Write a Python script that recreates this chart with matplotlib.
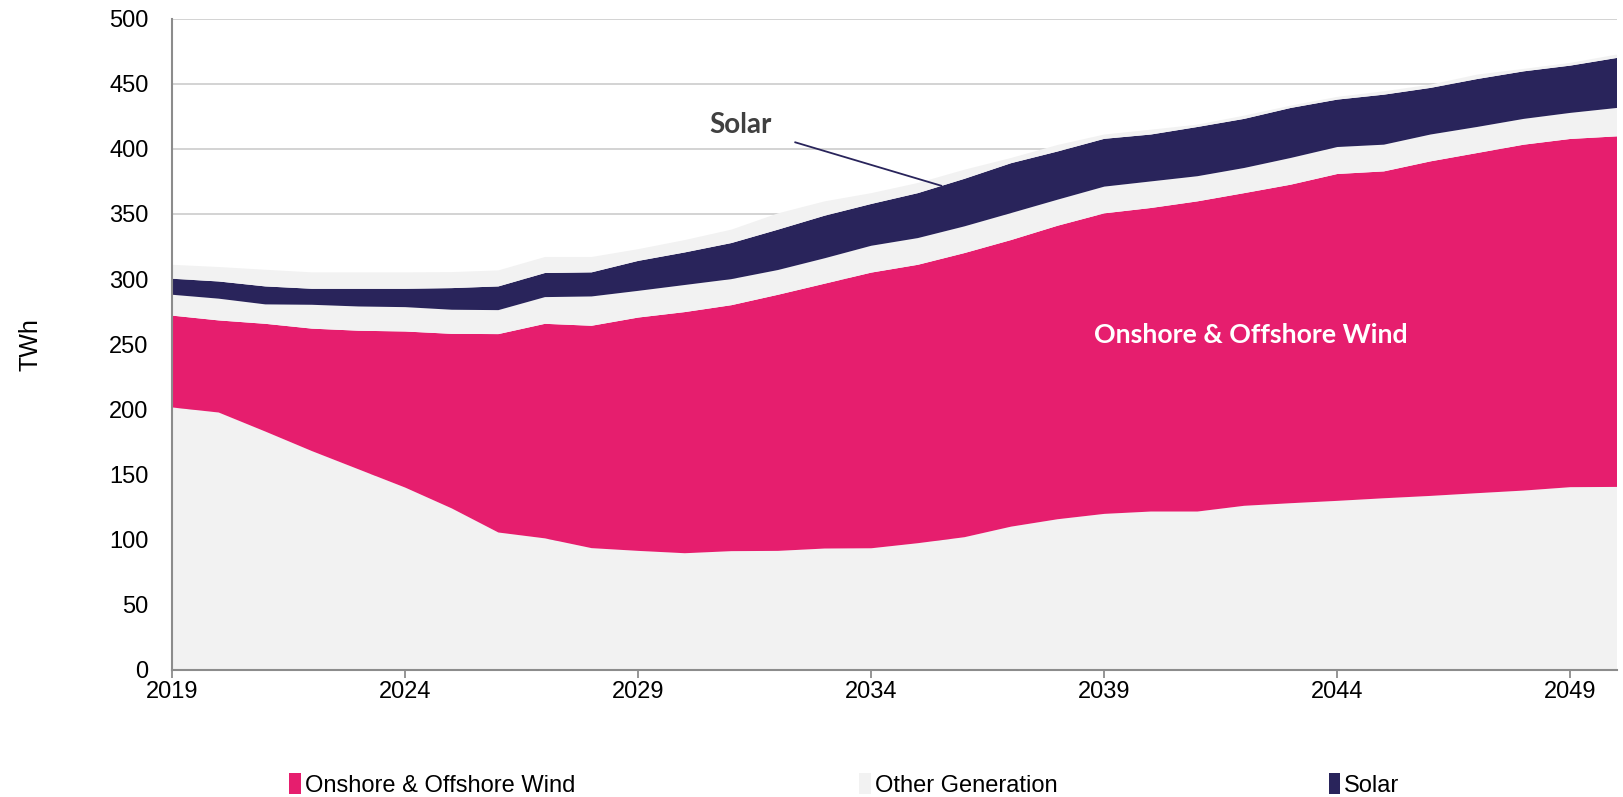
import matplotlib
matplotlib.use("Agg")
import matplotlib.pyplot as plt
from matplotlib.patches import Patch
import numpy as np

# данные (TWh), слои снизу вверх
years = list(range(2019, 2051))

other_low = [201.5, 197.6, 183, 168, 154, 140, 124, 105.5, 101, 93.5,
             91.4, 89.6, 91.2, 91.4, 93.2, 93.4, 97.3, 101.9, 110, 115.7,
             119.8, 121.6, 121.6, 126, 128, 129.8, 131.8, 133.6, 135.7, 137.7,
             140.3, 140.5]
wind = [70.5, 70.7, 82.7, 94, 106.4, 119.8, 134, 152.3, 164.7, 170.7,
        179.1, 185.1, 188.8, 196.6, 203.3, 211.6, 213.7, 218.1, 220, 225.3,
        230.7, 233, 238.1, 240, 244.5, 250.9, 250.9, 256.8, 261.1, 265.5,
        267.3, 269.1]
other_mid = [16, 16.7, 14.9, 18.3, 18.6, 18.7, 18.5, 18.4, 20.5, 22.5,
             20.5, 20.8, 20, 19, 19.5, 20.6, 20.5, 20.5, 20.7, 20,
             20.5, 20.4, 19.3, 19.3, 20.5, 20.7, 20.5, 20.6, 20, 19.8,
             20, 21.8]
solar = [12.3, 13.2, 13.8, 12.3, 13.6, 14.1, 16.6, 18.2, 18.5, 18.5,
         23, 25, 27.7, 31, 32.7, 32.1, 34.5, 36.5, 38.3, 37,
         36.7, 36, 37.8, 37.7, 38.4, 36.4, 38.4, 35.8, 36.8, 36.5,
         36.3, 38.4]
other_top = [10.7, 11.1, 12.8, 12.6, 12.6, 12.6, 12.3, 12.3, 12.3, 11.8,
             9, 9.5, 10.3, 12.5, 11, 8.3, 7.8, 7, 4, 5,
             3.3, 3.7, 1.8, 2.5, 1.8, 2.1, 2.6, 2.5, 3.4, 1.9,
             2.1, 2.6]

labels = ["Onshore & Offshore Wind", "Other Generation", "Solar"]
c_wind = "#E61E6E"
c_other = "#F2F2F2"
c_solar = "#29245B"

plt.rcParams["font.family"] = ["Liberation Sans", "DejaVu Sans"]

fig = plt.figure(figsize=(16.24, 7.97), dpi=100)
ax = fig.add_axes([0.106, 0.1594, 0.8897, 0.8173])

ax.stackplot(years, other_low, wind, other_mid, solar, other_top,
             colors=[c_other, c_wind, c_other, c_solar, c_other], zorder=2)

ax.set_xlim(2019, 2050)
ax.set_ylim(0, 500)
ax.set_yticks(np.arange(0, 501, 50))
ax.set_xticks(np.arange(2019, 2050, 5))
ax.grid(axis="y", color="#D0D0D0", linewidth=1.3, zorder=0)
ax.set_axisbelow(True)

for s in ["top", "right"]:
    ax.spines[s].set_visible(False)
for s in ["left", "bottom"]:
    ax.spines[s].set_color("#8C8C8C")
    ax.spines[s].set_linewidth(1.5)
    ax.spines[s].set_zorder(3)

ax.tick_params(axis="y", length=0, pad=17, labelsize=17)
ax.tick_params(axis="x", length=6, width=1.3, color="#8C8C8C", pad=2, labelsize=17)
ax.set_ylabel("TWh", fontsize=18, labelpad=48)

# подписи на графике
ax.text(2042.15, 257, "Onshore & Offshore Wind", color="white", fontsize=19.3,
        fontweight="bold", family="Lato", ha="center", va="center", zorder=4)
ax.text(2031.2, 418.6, "Solar", color="#404040", fontsize=20,
        fontweight="bold", family="Lato", ha="center", va="center", zorder=4)
ax.plot([2032.37, 2035.5], [405, 371.7], color=c_solar, linewidth=1.3, zorder=4)

# легенда: три отдельных элемента
leg_x = [0.165, 0.516, 0.805]
for lab, col, lx in zip(labels, [c_wind, c_other, c_solar], leg_x):
    fig.legend(handles=[Patch(facecolor=col, edgecolor="none")], labels=[lab],
               loc="center left", bbox_to_anchor=(lx, 0.015), frameon=False,
               handlelength=0.5, handleheight=1.0, handletextpad=0.15,
               prop={"size": 17})

fig.savefig("out.png", dpi=100)
